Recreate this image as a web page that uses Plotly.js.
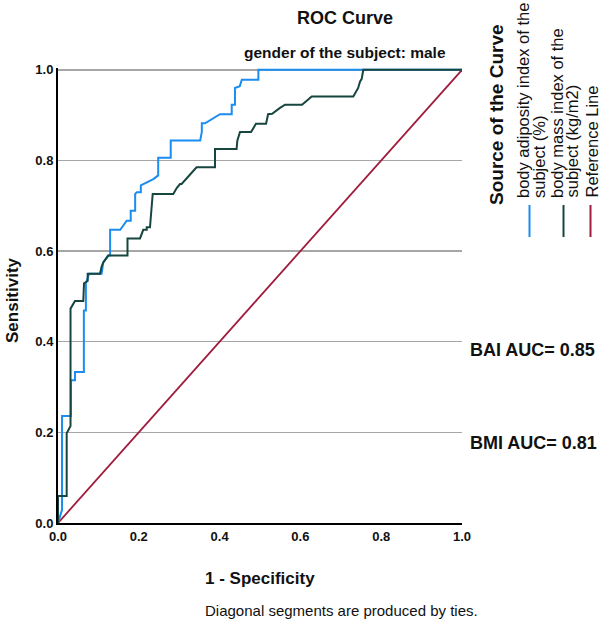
<!DOCTYPE html>
<html>
<head>
<meta charset="utf-8">
<script src="https://cdn.plot.ly/plotly-3.0.1.min.js"></script>
<style>html,body{margin:0;padding:0;background:#fff;}#chart{width:614px;height:629px;}</style>
</head>
<body>
<div id="chart"></div>
<script>
// ROC curve for body adiposity index (BAI)
const baiFpr = [0, 0.010, 0.010, 0.032, 0.032, 0.042, 0.042, 0.064, 0.064, 0.069, 0.069, 0.077, 0.108, 0.112, 0.124, 0.129, 0.129, 0.154, 0.170, 0.180, 0.180, 0.191, 0.191, 0.195, 0.205, 0.205, 0.236, 0.248, 0.248, 0.279, 0.279, 0.352, 0.356, 0.356, 0.364, 0.380, 0.401, 0.430, 0.430, 0.438, 0.438, 0.450, 0.455, 0.496, 0.496, 1.0];
const baiTpr = [0, 0.029, 0.236, 0.236, 0.315, 0.315, 0.333, 0.333, 0.469, 0.469, 0.529, 0.550, 0.550, 0.575, 0.590, 0.590, 0.647, 0.647, 0.667, 0.667, 0.689, 0.689, 0.726, 0.730, 0.730, 0.745, 0.759, 0.767, 0.806, 0.806, 0.844, 0.844, 0.863, 0.882, 0.882, 0.890, 0.902, 0.902, 0.923, 0.923, 0.960, 0.964, 0.978, 0.978, 1.0, 1.0];
// ROC curve for body mass index (BMI)
const bmiFpr = [0, 0, 0.0215, 0.0215, 0.031, 0.031, 0.042, 0.0626, 0.0644, 0.0735, 0.0735, 0.104, 0.108, 0.112, 0.1245, 0.172, 0.172, 0.203, 0.211, 0.2196, 0.2196, 0.2277, 0.2344, 0.2854, 0.2938, 0.302, 0.306, 0.331, 0.343, 0.3886, 0.3886, 0.442, 0.444, 0.4505, 0.478, 0.490, 0.515, 0.520, 0.530, 0.5495, 0.562, 0.604, 0.628, 0.731, 0.743, 0.7475, 0.7517, 0.7557, 1.0];
const bmiTpr = [0, 0.0595, 0.0595, 0.198, 0.214, 0.473, 0.490, 0.490, 0.529, 0.534, 0.550, 0.550, 0.566, 0.575, 0.590, 0.590, 0.628, 0.628, 0.647, 0.647, 0.6526, 0.6526, 0.726, 0.726, 0.739, 0.748, 0.748, 0.774, 0.785, 0.785, 0.825, 0.825, 0.844, 0.863, 0.863, 0.881, 0.881, 0.902, 0.903, 0.916, 0.923, 0.923, 0.941, 0.941, 0.960, 0.974, 0.980, 1.0, 1.0];
// Reference line
const refX = [0, 1];
const refY = [0, 1];
const yTicks = [0, 0.2, 0.4, 0.6, 0.8, 1.0];
const xTicks = [0, 0.2, 0.4, 0.6, 0.8, 1.0];
const tickText = ['0.0', '0.2', '0.4', '0.6', '0.8', '1.0'];
const seriesNames = [['body adiposity index of the', 'subject (%)'], ['body mass index of the', 'subject (kg/m2)'], ['Reference Line']];
const aucLabels = ['BAI AUC= 0.85', 'BMI AUC= 0.81'];

const colors = ['#1b8cf0', '#16463f', '#a01b3c'];
const sans = '"Liberation Sans", Arial, sans-serif';

const traces = [
  {x: refX, y: refY, mode: 'lines', line: {color: colors[2], width: 1.8}, name: seriesNames[2].join(' '), hoverinfo: 'skip'},
  {x: baiFpr, y: baiTpr, mode: 'lines', line: {color: colors[0], width: 2}, name: seriesNames[0].join(' ')},
  {x: bmiFpr, y: bmiTpr, mode: 'lines', line: {color: colors[1], width: 2}, name: seriesNames[1].join(' ')}
];

// pixel -> paper helpers (plot area: x 58..462, y 68..523)
const L = 58, R = 152, T = 68, B = 106, W = 614, H = 629;
const pw = W - L - R, ph = H - T - B;
const px = v => (v - L) / pw;
const py = v => (H - B - v) / ph;

function ann(text, x, y, size, opts) {
  return Object.assign({text: text, x: px(x), y: py(y), xref: 'paper', yref: 'paper',
    xanchor: 'center', yanchor: 'middle', showarrow: false,
    font: {family: sans, size: size, color: '#111'}}, opts || {});
}

const legendLineX = [[523.5, 539.5], [557, 572], [591.5]];
const legendAnn = [];
seriesNames.forEach((lines, i) => lines.forEach((t, j) => {
  legendAnn.push(ann(t, legendLineX[i][j], 200, 16.5, {yanchor: 'bottom', textangle: -90}));
}));

const annotations = [
  ann('<b>ROC Curve</b>', 345, 18, 18),
  ann('<b>gender of the subject: male</b>', 345, 53, 15.5),
  ann('<b>Sensitivity</b>', 12, 300, 17, {textangle: -90}),
  ann('<b>1 - Specificity</b>', 260, 578, 17),
  ann('Diagonal segments are produced by ties.', 341, 610, 15),
  ann('<b>Source of the Curve</b>', 497, 115, 19, {textangle: -90}),
  ann('<b>' + aucLabels[0] + '</b>', 468, 350, 18, {xanchor: 'left'}),
  ann('<b>' + aucLabels[1] + '</b>', 468, 443, 18, {xanchor: 'left'})
].concat(legendAnn);

const shapes = [0, 1, 2].map(i => ({
  type: 'line', xref: 'paper', yref: 'paper',
  x0: px([529.5, 563.5, 590.5][i]), x1: px([529.5, 563.5, 590.5][i]),
  y0: py(205), y1: py(237),
  line: {color: colors[i], width: 2}
}));

const layout = {
  width: W, height: H,
  margin: {l: L, r: R, t: T, b: B, pad: 0},
  paper_bgcolor: '#ffffff', plot_bgcolor: '#ffffff',
  showlegend: false,
  xaxis: {range: [0, 1.0], tickvals: xTicks, ticktext: tickText, showgrid: false, zeroline: false,
          showline: true, linecolor: '#000', linewidth: 2, ticks: '', ticklen: 0,
          tickfont: {family: sans, size: 13, color: '#111', weight: 'bold'}, fixedrange: true},
  yaxis: {range: [0, 1.004], tickvals: yTicks, ticktext: tickText, showgrid: true, gridcolor: '#a6a6a6', gridwidth: 1.5,
          zeroline: false, showline: true, linecolor: '#000', linewidth: 2, ticks: '', ticklen: 0,
          tickfont: {family: sans, size: 13, color: '#111', weight: 'bold'}, fixedrange: true},
  annotations: annotations,
  shapes: shapes
};

Plotly.newPlot('chart', traces, layout, {displayModeBar: false, staticPlot: true});
</script>
</body>
</html>
